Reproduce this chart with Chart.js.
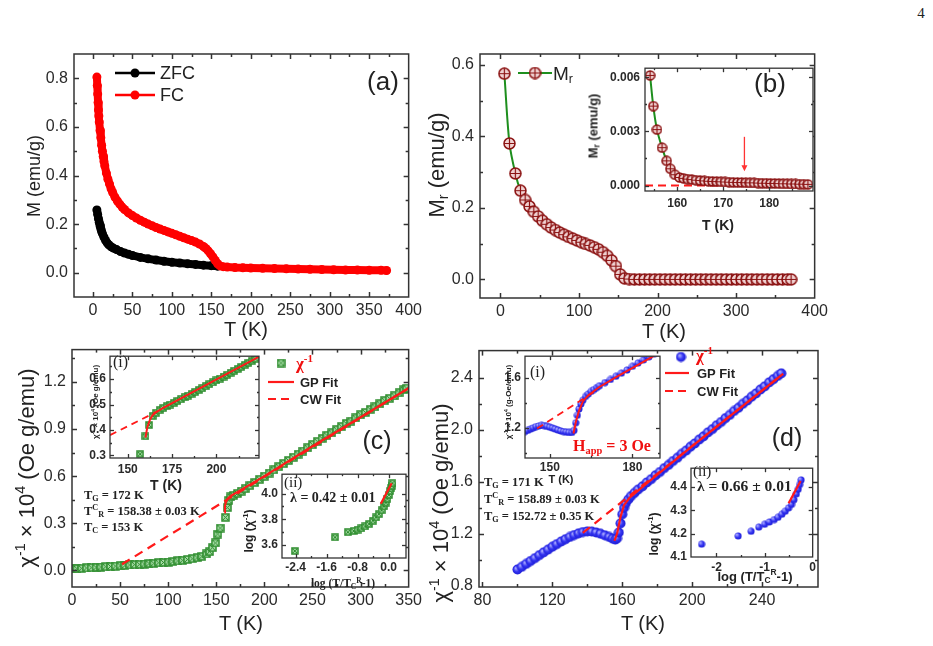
<!DOCTYPE html>
<html>
<head>
<meta charset="utf-8">
<script src="https://cdn.jsdelivr.net/npm/chart.js@4.4.1/dist/chart.umd.min.js"></script>
<style>
html, body { margin: 0; padding: 0; background: #fff; }
#fig { position: relative; width: 933px; height: 646px; overflow: hidden; background: #fff; }
#fig canvas { position: absolute; }
.t { position: absolute; z-index: 10; white-space: nowrap; transform: translate(-50%, -50%); font-family: 'Liberation Sans', Arial, sans-serif; color: #222; line-height: 1; }
.l { transform: translate(0, -50%); }
.rot { transform: translate(-50%, -50%) rotate(-90deg); }
.sf { font-family: 'Liberation Serif', 'Times New Roman', serif; font-weight: bold; }
.b { font-weight: bold; }
.red { color: #f01010; }
sup, sub { font-size: 0.65em; line-height: 0; }
sup { vertical-align: 0.6em; }
sub { vertical-align: -0.25em; }
</style>
</head>
<body>
<div id="fig">
  <div class="t" style="left:921px;top:13px;font:15px 'Liberation Serif',serif;">4</div>

  <!-- (a) -->
  <div class="t rot" style="left:34px;top:176px;font-size:18px;">M (emu/g)</div>
  <div class="t" style="left:246px;top:329px;font-size:20px;">T (K)</div>
  <div class="t l" style="left:160px;top:73px;font-size:18px;">ZFC</div>
  <div class="t l" style="left:160px;top:95px;font-size:18px;">FC</div>
  <div class="t" style="left:383px;top:81px;font-size:26px;">(a)</div>

  <!-- (b) -->
  <div class="t rot" style="left:437px;top:165px;font-size:22px;">M<sub>r</sub> (emu/g)</div>
  <div class="t" style="left:664px;top:331px;font-size:20px;">T (K)</div>
  <div class="t l" style="left:553px;top:73px;font-size:19px;">M<sub>r</sub></div>
  <div class="t" style="left:770px;top:83px;font-size:26px;">(b)</div>
  <div class="t rot b" style="left:593px;top:126px;font-size:13px;">M<sub>r</sub> (emu/g)</div>
  <div class="t b" style="left:718px;top:225px;font-size:14px;">T (K)</div>

  <!-- (c) -->
  <div class="t rot" style="left:27px;top:468px;font-size:22px;">χ<sup>-1</sup> × 10<sup>4</sup> (Oe g/emu)</div>
  <div class="t" style="left:241px;top:623px;font-size:20px;">T (K)</div>
  <div class="t" style="left:377px;top:440px;font-size:25px;">(c)</div>
  <div class="t l sf red" style="left:296px;top:363px;font-size:17px;">χ<sup>-1</sup></div>
  <div class="t l b" style="left:300px;top:382px;font-size:13px;">GP Fit</div>
  <div class="t l b" style="left:300px;top:399px;font-size:13px;">CW Fit</div>
  <div class="t l sf" style="left:84px;top:495px;font-size:12.5px;">T<sub>G</sub> = 172 K</div>
  <div class="t l sf" style="left:84px;top:511px;font-size:12.5px;">T<sup>C</sup><sub>R</sub> = 158.38 ± 0.03 K</div>
  <div class="t l sf" style="left:84px;top:527px;font-size:12.5px;">T<sub>C</sub> = 153 K</div>
  <div class="t l" style="left:113px;top:362px;font:16px 'Liberation Serif',serif;">(i)</div>
  <div class="t rot b" style="left:96px;top:402px;font-size:8px;">χ<sup>-1</sup> × 10<sup>4</sup> (Oe g/emu)</div>
  <div class="t b" style="left:166px;top:485px;font-size:14px;">T (K)</div>
  <div class="t l sf" style="left:284px;top:482px;font-size:15px;font-weight:normal;">(ii)</div>
  <div class="t l sf" style="left:290px;top:498px;font-size:14px;">λ = 0.42 ± 0.01</div>
  <div class="t rot b" style="left:249px;top:531px;font-size:12px;">log (χ<sup>-1</sup>)</div>
  <div class="t sf" style="left:343px;top:584px;font-size:11.5px;">log (T/T<sub>C</sub><sup>R</sup>-1)</div>

  <!-- (d) -->
  <div class="t rot" style="left:441px;top:503px;font-size:22px;">χ<sup>-1</sup> × 10<sup>4</sup> (Oe g/emu)</div>
  <div class="t" style="left:643px;top:623px;font-size:20px;">T (K)</div>
  <div class="t" style="left:787px;top:437px;font-size:25px;">(d)</div>
  <div class="t l sf red" style="left:696px;top:355px;font-size:17px;">χ<sup>-1</sup></div>
  <div class="t l b" style="left:697px;top:373px;font-size:13px;">GP Fit</div>
  <div class="t l b" style="left:697px;top:391px;font-size:13px;">CW Fit</div>
  <div class="t l sf" style="left:484px;top:482px;font-size:12.5px;">T<sub>G</sub> = 171 K</div>
  <div class="t l sf" style="left:484px;top:499px;font-size:12.5px;">T<sup>C</sup><sub>R</sub> = 158.89 ± 0.03 K</div>
  <div class="t l sf" style="left:484px;top:516px;font-size:12.5px;">T<sub>G</sub> = 152.72 ± 0.35 K</div>
  <div class="t l" style="left:530px;top:372px;font:16px 'Liberation Serif',serif;">(i)</div>
  <div class="t rot b" style="left:509px;top:402px;font-size:8px;">χ<sup>-1</sup> × 10<sup>4</sup> (g-Oe/emu)</div>
  <div class="t b" style="left:561px;top:479px;font-size:11px;">T (K)</div>
  <div class="t sf red" style="left:612px;top:446px;font-size:16px;">H<sub>app</sub> = 3 Oe</div>
  <div class="t l" style="left:693px;top:471px;font:15px 'Liberation Serif',serif;">(ii)</div>
  <div class="t l sf" style="left:697px;top:486px;font-size:15.5px;">λ = 0.66 ± 0.01</div>
  <div class="t rot b" style="left:654px;top:534px;font-size:12px;">log (χ<sup>-1</sup>)</div>
  <div class="t b" style="left:755px;top:576px;font-size:13px;">log (T/T<sub>C</sub><sup>R</sup>-1)</div>
</div>

<script>
// ── Data: (a) ZFC / FC magnetisation ──

var zfcPoints = [[5,0.258],[6,0.24],[7,0.222],[8,0.207],[9,0.193],[10,0.181],[11,0.17],[12,0.161],[14,0.146],[16,0.133],[18,0.123],[20,0.115],[23,0.107],[26,0.101],[30,0.095],[35,0.087],[40,0.081],[45,0.076],[50,0.071],[60,0.063],[70,0.057],[80,0.052],[90,0.047],[100,0.043],[110,0.04],[120,0.037],[130,0.034],[140,0.031],[150,0.029],[158,0.027]];

var fcPoints = [[5,0.805],[5.5,0.77],[6,0.735],[6.5,0.70],[7,0.67],[7.5,0.645],[8,0.62],[9,0.585],[10,0.555],[11,0.525],[12,0.5],[13,0.478],[14,0.458],[15,0.44],[17,0.41],[19,0.385],[21,0.365],[23,0.345],[25,0.33],[28,0.31],[31,0.295],[34,0.282],[37,0.27],[40,0.26],[45,0.246],[50,0.235],[55,0.225],[60,0.216],[65,0.208],[70,0.2],[75,0.193],[80,0.186],[85,0.18],[90,0.174],[95,0.168],[100,0.162],[105,0.156],[110,0.15],[115,0.144],[120,0.138],[125,0.132],[130,0.126],[135,0.118],[140,0.108],[143,0.1],[146,0.09],[149,0.078],[152,0.065],[155,0.05],[158,0.037],[161,0.028],[165,0.025],[170,0.023],[180,0.021],[190,0.02],[200,0.019],[215,0.018],[230,0.017],[245,0.016],[260,0.015],[275,0.014],[290,0.013],[305,0.012],[320,0.011],[335,0.011],[350,0.01],[365,0.01],[372,0.009]];

var aTicksX = [0, 50, 100, 150, 200, 250, 300, 350, 400];
var aTicksY = [0, 0.2, 0.4, 0.6, 0.8];

// ── Data: (b) remanent magnetisation ──

var mrPoints = [[5,0.575],[11.5,0.38],[19,0.296],[25.5,0.248],[31.5,0.222],[37,0.204],[42.5,0.189],[48,0.176],[53.5,0.164],[59,0.154],[64.5,0.145],[70,0.138],[75.5,0.131],[81,0.125],[86.5,0.119],[92,0.114],[97.5,0.109],[103,0.104],[108.5,0.099],[114,0.095],[119.5,0.09],[125,0.084],[130.5,0.076],[136,0.066],[141.5,0.053],[147,0.037],[152.5,0.014],[158,0.003],[164,0.001],[170.5,0],[177,0],[183.5,0],[190,0],[196.5,0],[203,0],[209.5,0],[216,0],[222.5,0],[229,0],[235.5,0],[242,0],[248.5,0],[255,0],[261.5,0],[268,0],[274.5,0],[281,0],[287.5,0],[294,0],[300.5,0],[307,0],[313.5,0],[320,0],[326.5,0],[333,0],[339.5,0],[346,0],[352.5,0],[359,0],[365.5,0],[370,0]];

var mrInsetPoints = [[154.1,0.0061],[154.8,0.0044],[155.6,0.0031],[156.7,0.0021],[157.7,0.00137],[158.5,0.00093],[159.5,0.0006],[160.5,0.00045],[161.4,0.0004],[162.3,0.00036],[163.2,0.00033],[164.1,0.0003],[165,0.00028],[165.9,0.00026],[166.8,0.00024],[167.7,0.00023],[168.6,0.00022],[169.5,0.00021],[170.4,0.0002],[171.3,0.00019],[172.2,0.00018],[173.1,0.00017],[174,0.00017],[174.9,0.00016],[175.8,0.00015],[176.7,0.00015],[177.6,0.00014],[178.5,0.00013],[179.4,0.00013],[180.3,0.00012],[181.2,0.00012],[182.1,0.00011],[183,0.0001],[183.9,0.0001],[184.8,0.00009],[185.7,0.00009],[186.6,0.00008],[187.5,0.00008],[188.4,0.00007]];
var mrZeroLine = [[153,0],[170,0]];

var bTicksX = [0, 100, 200, 300, 400];
var bTicksY = [0, 0.2, 0.4, 0.6];
var bInTicksX = [160, 170, 180];
var bInTicksY = [0, 0.003, 0.006];

// ── Data: (c) inverse susceptibility, sample 1 ──

var chiC = [[0,0.010],[5,0.012],[10,0.014],[15,0.016],[20,0.018],[25,0.020],[30,0.022],[35,0.024],[40,0.026],[45,0.028],[50,0.030],[55,0.032],[60,0.035],[65,0.037],[70,0.039],[75,0.041],[80,0.044],[85,0.046],[90,0.049],[95,0.051],[100,0.054],[105,0.057],[110,0.061],[115,0.065],[120,0.070],[125,0.075],[130,0.081],[135,0.090],[140,0.105],[143,0.12],[146,0.145],[149,0.175],[151.5,0.232],[154,0.27],[159.5,0.338],[161.5,0.4],[163,0.446],[165,0.468],[168,0.478],[172,0.49],[176,0.505],[180,0.52],[185,0.54],[190,0.56],[195,0.58],[200,0.6],[205,0.62],[210,0.64],[215,0.66],[220,0.68],[225,0.7],[230,0.72],[235,0.74],[240,0.76],[245,0.78],[250,0.8],[255,0.82],[260,0.84],[265,0.86],[270,0.875],[275,0.895],[280,0.915],[285,0.935],[290,0.95],[295,0.97],[300,0.99],[305,1.005],[310,1.025],[315,1.04],[320,1.06],[325,1.08],[330,1.095],[335,1.11],[340,1.13],[345,1.15],[348,1.16]];
var gpC = [[158.4,0.37],[159,0.41],[160,0.435],[162,0.458],[165,0.474],[170,0.492],[200,0.6],[250,0.79],[300,0.975],[350,1.16]];
var cwC = [[52,0.04],[350,1.16]];

var chiCi = [[157,0.305],[160,0.375],[162,0.42],[164,0.455],[166,0.468],[168,0.478],[170,0.487],[172,0.494],[174,0.5],[176,0.507],[178,0.514],[180,0.521],[182,0.528],[184,0.535],[186,0.542],[188,0.55],[190,0.557],[192,0.564],[194,0.572],[196,0.58],[198,0.587],[200,0.595],[202,0.602],[204,0.61],[206,0.617],[208,0.625],[210,0.633],[212,0.64],[214,0.648],[216,0.656],[218,0.664],[220,0.672],[222,0.68]];
var gpCi = [[160,0.37],[161,0.41],[162.5,0.44],[164,0.458],[166,0.47],[170,0.487],[224,0.688]];
var cwCi = [[140,0.38],[167,0.474]];

var logCii = [[-2.42,3.555],[-1.38,3.66],[-1.05,3.7],[-0.9,3.71],[-0.8,3.72],[-0.7,3.73],[-0.6,3.745],[-0.5,3.765],[-0.4,3.79],[-0.32,3.815],[-0.25,3.84],[-0.18,3.87],[-0.12,3.9],[-0.07,3.93],[-0.03,3.96],[0.01,3.99],[0.04,4.02],[0.06,4.04],[0.08,4.06],[0.1,4.08]];
var fitCii = [[-0.2,3.92],[0.08,4.08]];

var cTicksX = [0, 50, 100, 150, 200, 250, 300, 350];
var cTicksY = [0, 0.3, 0.6, 0.9, 1.2];
var ciTicksX = [150, 175, 200];
var ciTicksY = [0.3, 0.4, 0.5, 0.6];
var ciiTicksX = [-2.4, -1.6, -0.8, 0];
var ciiTicksY = [3.6, 3.8, 4.0];

// ── Data: (d) inverse susceptibility, sample 2 ──

var chiD = [[100,0.925],[102.5,0.945],[105,0.968],[107.5,0.99],[110,1.012],[112.5,1.035],[115,1.057],[117.5,1.078],[120,1.1],[122.5,1.12],[125,1.14],[127.5,1.158],[130,1.175],[132.5,1.19],[135,1.203],[137.5,1.213],[140,1.218],[142.5,1.217],[145,1.21],[147.5,1.2],[150,1.188],[152.5,1.175],[154.5,1.162],[156,1.155],[157,1.165],[158,1.21],[159,1.28],[160,1.35],[161,1.4],[162,1.435],[163.5,1.465],[165,1.49],[167,1.515],[169,1.54],[171.5,1.565],[174,1.595],[176.5,1.62],[179,1.65],[181.5,1.675],[184,1.705],[186.5,1.73],[189,1.76],[191.5,1.785],[194,1.815],[196.5,1.84],[199,1.87],[201.5,1.895],[204,1.925],[206.5,1.95],[209,1.98],[211.5,2.005],[214,2.035],[216.5,2.06],[219,2.09],[221.5,2.115],[224,2.145],[226.5,2.17],[229,2.2],[231.5,2.225],[234,2.255],[236.5,2.28],[239,2.31],[241.5,2.335],[244,2.365],[246.5,2.39],[249,2.415],[251,2.435]];
var gpD = [[155.5,1.145],[157,1.2],[159,1.33],[161,1.42],[164,1.475],[168,1.52],[175,1.6],[200,1.875],[252,2.43]];
var cwD = [[137.4,1.207],[252,2.43]];

var chiDi = [[141,1.17],[142,1.18],[143,1.19],[144,1.2],[145,1.21],[146,1.215],[147,1.22],[148,1.218],[149,1.212],[150,1.205],[151,1.198],[152,1.19],[153,1.182],[154,1.175],[155,1.17],[156,1.166],[157,1.163],[158,1.163],[158.8,1.18],[159.4,1.24],[160,1.3],[160.6,1.35],[161.3,1.39],[162,1.42],[163,1.45],[164,1.47],[165,1.49],[166,1.505],[167,1.52],[168,1.535],[170,1.56],[172,1.585],[174,1.61],[176,1.635],[178,1.66],[180,1.69],[182,1.715],[184,1.74],[186,1.765],[188,1.79]];
var gpDi = [[158.6,1.155],[159.5,1.25],[160.5,1.33],[162,1.41],[164,1.46],[168,1.525],[175,1.615],[182,1.7],[190,1.8]];
var cwDi = [[145.4,1.195],[166.4,1.49]];

var logDii = [[-2.31,4.155],[-1.55,4.19],[-1.28,4.21],[-1.12,4.228],[-1.0,4.24],[-0.9,4.25],[-0.8,4.26],[-0.72,4.27],[-0.64,4.283],[-0.57,4.296],[-0.5,4.31],[-0.44,4.325],[-0.39,4.345],[-0.34,4.37],[-0.3,4.39],[-0.27,4.41],[-0.24,4.43]];
var fitDii = [[-0.5,4.33],[-0.25,4.425]];

var dTicksX = [80, 120, 160, 200, 240];
var dTicksY = [0.8, 1.2, 1.6, 2.0, 2.4];
var diTicksX = [150, 180];
var diTicksY = [1.2, 1.6];
var diiTicksX = [-2, -1, 0];
var diiTicksY = [4.1, 4.2, 4.3, 4.4];

// ── Markers ──

function makeMarker(kind, d) {
  var c = document.createElement('canvas');
  c.width = d; c.height = d;
  var g = c.getContext('2d');
  var m = d / 2;
  if (kind === 'mr') {
    var r = m - 1;
    g.beginPath(); g.arc(m, m, r, 0, Math.PI * 2);
    g.fillStyle = '#f1d3d3'; g.fill();
    g.lineWidth = 1.5; g.strokeStyle = '#8b1212'; g.stroke();
    g.beginPath();
    g.moveTo(m - r, m); g.lineTo(m + r, m);
    g.moveTo(m, m - r); g.lineTo(m, m + r);
    g.lineWidth = 1.2; g.stroke();
  } else if (kind === 'sq') {
    g.fillStyle = '#a6dba6'; g.fillRect(1, 1, d - 2, d - 2);
    g.strokeStyle = '#2c8c2c'; g.lineWidth = 1.5; g.strokeRect(1, 1, d - 2, d - 2);
    g.beginPath(); g.moveTo(1.5, 1.5); g.lineTo(d - 1.5, d - 1.5);
    g.moveTo(d - 1.5, 1.5); g.lineTo(1.5, d - 1.5);
    g.lineWidth = 1; g.stroke();
  } else {
    var gr = g.createRadialGradient(m - 1.5, m - 1.5, 0.5, m, m, m);
    gr.addColorStop(0, '#a8a8ff'); gr.addColorStop(0.5, '#3434f2'); gr.addColorStop(1, '#1a1ad0');
    g.beginPath(); g.arc(m, m, m - 0.5, 0, Math.PI * 2);
    g.fillStyle = gr; g.fill();
  }
  return c;
}

var mrBig = makeMarker('mr', 13);
var mrSmall = makeMarker('mr', 11);
var sqBig = makeMarker('sq', 9);
var sqSmall = makeMarker('sq', 8);
var blBig = makeMarker('bl', 11);
var blSmall = makeMarker('bl', 8);

// ── Frame plugin: box, inward ticks on all sides, legend symbols ──

var framePlugin = {
  id: 'frame',
  beforeDatasetsDraw: function (chart, args, o) {
    if (!o.bg) return;
    var a = chart.chartArea;
    chart.ctx.save();
    chart.ctx.fillStyle = o.bg;
    chart.ctx.fillRect(a.left, a.top, a.width, a.height);
    chart.ctx.restore();
  },
  afterDatasetsDraw: function (chart, args, o) {
    var ctx = chart.ctx, a = chart.chartArea;
    var sx = chart.scales.x, sy = chart.scales.y;
    ctx.save();
    ctx.strokeStyle = '#333';
    ctx.lineWidth = o.lw || 1.5;

    function seg(x1, y1, x2, y2) { ctx.beginPath(); ctx.moveTo(x1, y1); ctx.lineTo(x2, y2); ctx.stroke(); }
    function xt(v, len) {
      var p = Math.round(sx.getPixelForValue(v)) + 0.5;
      if (p < a.left + 2 || p > a.right - 2) return;
      seg(p, a.bottom, p, a.bottom - len); seg(p, a.top, p, a.top + len);
    }
    function yt(v, len) {
      var p = Math.round(sy.getPixelForValue(v)) + 0.5;
      if (p < a.top + 2 || p > a.bottom - 2) return;
      seg(a.left, p, a.left + len, p); seg(a.right, p, a.right - len, p);
    }
    var maj = o.major || 5, min = o.minor || 3;
    sx.ticks.forEach(function (t) { xt(t.value, maj); });
    sy.ticks.forEach(function (t) { yt(t.value, maj); });
    (o.xMinor || []).forEach(function (v) { xt(v, min); });
    (o.yMinor || []).forEach(function (v) { yt(v, min); });
    ctx.strokeRect(a.left, a.top, a.width, a.height);

    // arrow annotation
    if (o.arrow) {
      var ax = sx.getPixelForValue(o.arrow.x);
      var y1 = sy.getPixelForValue(o.arrow.y1), y2 = sy.getPixelForValue(o.arrow.y2);
      ctx.strokeStyle = '#ff3333'; ctx.fillStyle = '#ff3333'; ctx.lineWidth = 1.3;
      seg(ax, y1, ax, y2 - 5);
      ctx.beginPath(); ctx.moveTo(ax - 3, y2 - 6); ctx.lineTo(ax + 3, y2 - 6); ctx.lineTo(ax, y2); ctx.closePath(); ctx.fill();
    }

    // legend symbols, given in page pixels
    (o.marks || []).forEach(function (m) {
      var x1 = m.x1 - o.ox, x2 = m.x2 - o.ox, y = m.y - o.oy;
      ctx.setLineDash(m.dash || []);
      if (m.color) {
        ctx.strokeStyle = m.color; ctx.lineWidth = m.w || 2;
        seg(x1, y, x2, y);
      }
      ctx.setLineDash([]);
      if (m.img) {
        var cx = (x1 + x2) / 2;
        ctx.drawImage(m.img, cx - m.img.width / 2, y - m.img.height / 2);
      } else if (m.dot) {
        ctx.fillStyle = m.dot;
        ctx.beginPath(); ctx.arc((x1 + x2) / 2, y, 4.5, 0, Math.PI * 2); ctx.fill();
      }
    });
    ctx.restore();
  }
};

// ── Chart builder ──

function pts(arr) {
  return arr.map(function (p) { return { x: p[0], y: p[1] }; });
}

function fmt(dec) {
  return function (v) { return v.toFixed(dec); };
}

function axis(s, box, isX) {
  return {
    type: 'linear',
    position: isX ? 'bottom' : 'left',
    min: s.min,
    max: s.max,
    grid: { display: false, drawTicks: false },
    border: { display: false },
    afterBuildTicks: function (sc) { sc.ticks = s.ticks.map(function (v) { return { value: v }; }); },
    afterFit: function (sc) { if (isX) sc.height = box.xh; else sc.width = box.yw; },
    ticks: {
      autoSkip: false, maxRotation: 0, padding: s.pad, color: '#2a2a2a', font: s.font,
      callback: function (v) { return s.fmt(v); },
    },
  };
}

function build(box, datasets, sx, sy, frame) {
  var cv = document.createElement('canvas');
  var w = box.r - box.l + box.yw + box.pr;
  var h = box.b - box.t + box.xh + box.pt;
  cv.width = w; cv.height = h;
  cv.style.left = (box.l - box.yw) + 'px';
  cv.style.top = (box.t - box.pt) + 'px';
  cv.style.width = w + 'px';
  cv.style.height = h + 'px';
  document.getElementById('fig').appendChild(cv);
  frame.ox = box.l - box.yw;
  frame.oy = box.t - box.pt;
  return new Chart(cv.getContext('2d'), {
    type: 'scatter',
    data: { datasets: datasets },
    options: {
      responsive: false,
      animation: false,
      devicePixelRatio: 1,
      layout: { autoPadding: false, padding: { left: 0, top: box.pt, right: box.pr, bottom: 0 } },
      plugins: { legend: { display: false }, tooltip: { enabled: false }, frame: frame },
      scales: { x: axis(sx, box, true), y: axis(sy, box, false) },
    },
    plugins: [framePlugin],
  });
}

function markerSet(data, img, order, line) {
  var ds = { data: pts(data), pointStyle: img, pointRadius: 5, showLine: false, order: order };
  if (line) {
    ds.showLine = true; ds.borderColor = line.color; ds.borderWidth = line.w; ds.tension = line.tension || 0;
  }
  return ds;
}

function lineSet(data, color, w, dash, order, tension) {
  return {
    data: pts(data), showLine: true, borderColor: color, borderWidth: w,
    borderDash: dash || [], pointRadius: 0, order: order, tension: tension || 0,
  };
}

var mainFont = { family: "'Liberation Sans', Arial, sans-serif", size: 16 };
var insetFont = { family: "'Liberation Sans', Arial, sans-serif", size: 12, weight: 'bold' };
var RED = '#ff1a1a';

// ── Panel (a) ──

build({ l: 74, t: 54, r: 410, b: 297, yw: 60, xh: 40, pt: 20, pr: 16 }, [
  { data: pts(fcPoints), showLine: true, borderColor: '#ff0000', borderWidth: 8, pointRadius: 4.5,
    pointBackgroundColor: '#ff0000', pointBorderWidth: 0, borderCapStyle: 'round', borderJoinStyle: 'round', order: 0 },
  { data: pts(zfcPoints), showLine: true, borderColor: '#000', borderWidth: 8, pointRadius: 4.5,
    pointBackgroundColor: '#000', pointBorderWidth: 0, borderCapStyle: 'round', borderJoinStyle: 'round', order: 1 },
], { min: -24, max: 400, ticks: aTicksX, fmt: fmt(0), font: mainFont, pad: 4 },
   { min: -0.1, max: 0.9, ticks: aTicksY, fmt: fmt(1), font: mainFont, pad: 6 },
   { xMinor: [25, 75, 125, 175, 225, 275, 325, 375], yMinor: [0.1, 0.3, 0.5, 0.7],
     marks: [
       { x1: 115, x2: 155, y: 73, color: '#000', w: 2.5, dot: '#000' },
       { x1: 115, x2: 155, y: 95, color: '#ff0000', w: 2.5, dot: '#ff0000' },
     ] });

// ── Panel (b) ──

build({ l: 480, t: 54, r: 818, b: 298, yw: 60, xh: 40, pt: 20, pr: 14 }, [
  markerSet(mrPoints, mrBig, 0, { color: '#1e8f1e', w: 2, tension: 0.3 }),
], { min: -26, max: 400, ticks: bTicksX, fmt: fmt(0), font: mainFont, pad: 4 },
   { min: -0.052, max: 0.63, ticks: bTicksY, fmt: fmt(1), font: mainFont, pad: 6 },
   { xMinor: [50, 150, 250, 350], yMinor: [0.1, 0.3, 0.5],
     marks: [{ x1: 518, x2: 552, y: 73, color: '#1e8f1e', w: 2, img: mrBig }] });

build({ l: 645, t: 62, r: 813, b: 191, yw: 50, xh: 24, pt: 6, pr: 4 }, [
  lineSet(mrZeroLine, RED, 2, [8, 5], 1),
  markerSet(mrInsetPoints, mrSmall, 0, { color: '#1e8f1e', w: 2, tension: 0.3 }),
], { min: 153, max: 189.5, ticks: bInTicksX, fmt: fmt(0), font: insetFont, pad: 5 },
   { min: -0.0003, max: 0.0065, ticks: bInTicksY, fmt: fmt(3), font: insetFont, pad: 5 },
   { bg: '#fff', lw: 1.3, major: 4, minor: 2, xMinor: [155, 165, 175, 185], yMinor: [0.0015, 0.0045],
     arrow: { x: 174.6, y1: 0.0027, y2: 0.0008 } });

// ── Panel (c) ──

build({ l: 72, t: 344, r: 410, b: 587, yw: 60, xh: 30, pt: 10, pr: 16 }, [
  lineSet(gpC, RED, 2.2, [], 0),
  lineSet(cwC, RED, 2.2, [9, 6], 0),
  markerSet(chiC, sqBig, 1),
], { min: 0, max: 350, ticks: cTicksX, fmt: fmt(0), font: mainFont, pad: 4 },
   { min: -0.105, max: 1.405, ticks: cTicksY, fmt: fmt(1), font: mainFont, pad: 6 },
   { xMinor: [25, 75, 125, 175, 225, 275, 325], yMinor: [0.15, 0.45, 0.75, 1.05, 1.35],
     marks: [
       { x1: 276, x2: 286, y: 363, img: sqBig },
       { x1: 268, x2: 294, y: 382, color: RED, w: 2.2 },
       { x1: 268, x2: 294, y: 399, color: RED, w: 2.2, dash: [8, 5] },
     ] });

build({ l: 110, t: 349, r: 259, b: 458, yw: 30, xh: 20, pt: 4, pr: 4 }, [
  lineSet(gpCi, RED, 2, [], 0),
  lineSet(cwCi, RED, 1.8, [7, 5], 0),
  markerSet(chiCi, sqSmall, 1),
], { min: 140, max: 224, ticks: ciTicksX, fmt: fmt(0), font: insetFont, pad: 4 },
   { min: 0.29, max: 0.69, ticks: ciTicksY, fmt: fmt(1), font: insetFont, pad: 4 },
   { bg: '#fff', lw: 1.3, major: 4, minor: 2, xMinor: [162.5, 187.5, 212.5], yMinor: [0.35, 0.45, 0.55, 0.65] });

build({ l: 282, t: 467, r: 406, b: 558, yw: 30, xh: 20, pt: 4, pr: 4 }, [
  lineSet(fitCii, RED, 2.2, [], 0),
  markerSet(logCii, sqSmall, 1),
], { min: -2.75, max: 0.45, ticks: ciiTicksX, fmt: fmt(1), font: insetFont, pad: 2 },
   { min: 3.5, max: 4.15, ticks: ciiTicksY, fmt: fmt(1), font: insetFont, pad: 4 },
   { bg: '#fff', lw: 1.3, major: 4, minor: 2, xMinor: [-2.0, -1.2, -0.4], yMinor: [3.7, 3.9] });

// ── Panel (d) ──

build({ l: 479, t: 345, r: 818, b: 587, yw: 60, xh: 30, pt: 10, pr: 14 }, [
  lineSet(gpD, RED, 2.2, [], 0),
  lineSet(cwD, RED, 2.2, [9, 6], 0),
  markerSet(chiD, blBig, 1),
], { min: 78, max: 272, ticks: dTicksX, fmt: fmt(0), font: mainFont, pad: 4 },
   { min: 0.79, max: 2.61, ticks: dTicksY, fmt: fmt(1), font: mainFont, pad: 6 },
   { xMinor: [100, 140, 180, 220, 260], yMinor: [1.0, 1.4, 1.8, 2.2],
     marks: [
       { x1: 676, x2: 686, y: 357, img: blBig },
       { x1: 665, x2: 689, y: 373, color: RED, w: 2.2 },
       { x1: 665, x2: 689, y: 391, color: RED, w: 2.2, dash: [8, 5] },
     ] });

build({ l: 525, t: 349, r: 660, b: 458, yw: 30, xh: 20, pt: 4, pr: 4 }, [
  lineSet(gpDi, RED, 2, [], 0),
  lineSet(cwDi, RED, 1.8, [7, 5], 0),
  markerSet(chiDi, blSmall, 1),
], { min: 141, max: 190, ticks: diTicksX, fmt: fmt(0), font: insetFont, pad: 2 },
   { min: 0.96, max: 1.77, ticks: diTicksY, fmt: fmt(1), font: insetFont, pad: 4 },
   { bg: '#fff', lw: 1.3, major: 4, minor: 2, xMinor: [165], yMinor: [1.0, 1.4] });

build({ l: 691, t: 461, r: 813, b: 557, yw: 30, xh: 20, pt: 4, pr: 6 }, [
  lineSet(fitDii, RED, 2.2, [], 0),
  markerSet(logDii, blSmall, 1),
], { min: -2.53, max: 0, ticks: diiTicksX, fmt: fmt(0), font: insetFont, pad: 3 },
   { min: 4.1, max: 4.48, ticks: diiTicksY, fmt: fmt(1), font: insetFont, pad: 4 },
   { bg: '#fff', lw: 1.3, major: 4, minor: 2, xMinor: [-1.5, -0.5] });
</script>
</body>
</html>
